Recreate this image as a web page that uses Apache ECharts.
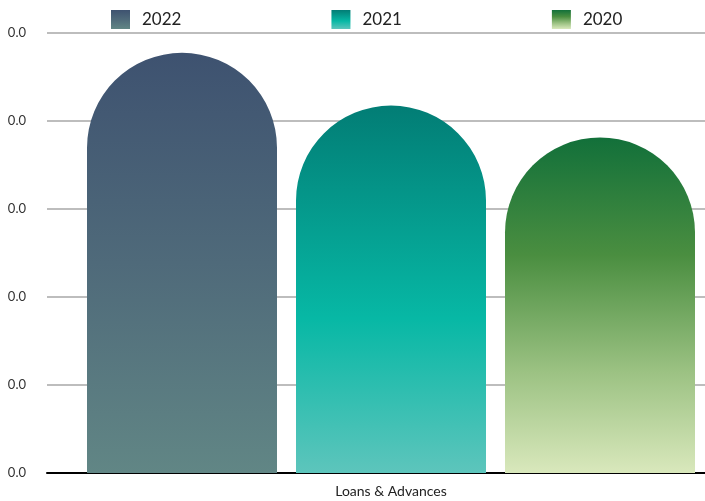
<!DOCTYPE html>
<html>
<head>
<meta charset="utf-8">
<script src="https://cdn.jsdelivr.net/npm/echarts@6/dist/echarts.min.js"></script>
<style>html,body{margin:0;padding:0;background:#fff;}#c{width:705px;height:501px;}</style>
</head>
<body>
<div id="c"></div>
<script>
const categories = ['Loans & Advances'];
const seriesNames = ['2022', '2021', '2020'];
const values2022 = [0.0382];
const values2021 = [0.0334];
const values2020 = [0.0305];
const yTicks = { min: 0, max: 0.04, interval: 0.008 };

const grad = (stops) => new echarts.graphic.LinearGradient(0, 0, 0, 1, stops.map(s => ({offset: s[0], color: s[1]})));
const colors = [
  grad([[0, '#3e5270'], [0.5, '#4f6a7a'], [1, '#618685']]),
  grad([[0, '#027d75'], [0.58, '#07b8a5'], [1, '#5dc5bc']]),
  grad([[0, '#12703a'], [0.35, '#4a8e40'], [0.7, '#9cc283'], [1, '#d9e8bc']])
];
const data = [values2022, values2021, values2020];

const chart = echarts.init(document.getElementById('c'), null, {renderer: 'canvas'});
chart.setOption({
  animation: false,
  textStyle: { fontFamily: 'Lato' },
  legend: {
    left: 106, top: 5,
    itemWidth: 19, itemHeight: 19, itemGap: 150,
    icon: 'rect',
    textStyle: { fontSize: 17, color: '#222', fontFamily: 'Lato', padding: [0, 0, 0, 7] },
    data: seriesNames
  },
  grid: [
    { left: 47, right: 0, top: 33, bottom: 28, containLabel: false },
    { left: 77, right: 0, top: 33, bottom: 28, containLabel: false }
  ],
  xAxis: [
    {
      type: 'category', data: categories, gridIndex: 0,
      axisLine: { lineStyle: { color: '#000', width: 2 } },
      axisTick: { show: false },
      axisLabel: { show: false }
    },
    {
      type: 'category', data: categories, gridIndex: 1,
      axisLine: { show: false },
      axisTick: { show: false },
      axisLabel: { fontSize: 14, color: '#222', margin: 11 }
    }
  ],
  yAxis: [
    {
      type: 'value', gridIndex: 0, min: yTicks.min, max: yTicks.max, interval: yTicks.interval,
      axisLine: { show: false }, axisTick: { show: false },
      splitLine: { lineStyle: { color: '#bdbdbd', width: 2 } },
      axisLabel: { fontSize: 13, color: '#333', margin: 21, formatter: v => v.toFixed(1) }
    },
    {
      type: 'value', gridIndex: 1, min: yTicks.min, max: yTicks.max, interval: yTicks.interval,
      show: false
    }
  ],
  series: seriesNames.map((n, i) => ({
    name: n, type: 'bar', data: data[i], xAxisIndex: 1, yAxisIndex: 1,
    barWidth: 190, barGap: '10%',
    itemStyle: { color: colors[i], borderRadius: [95, 95, 0, 0] }
  }))
});
</script>
</body>
</html>
